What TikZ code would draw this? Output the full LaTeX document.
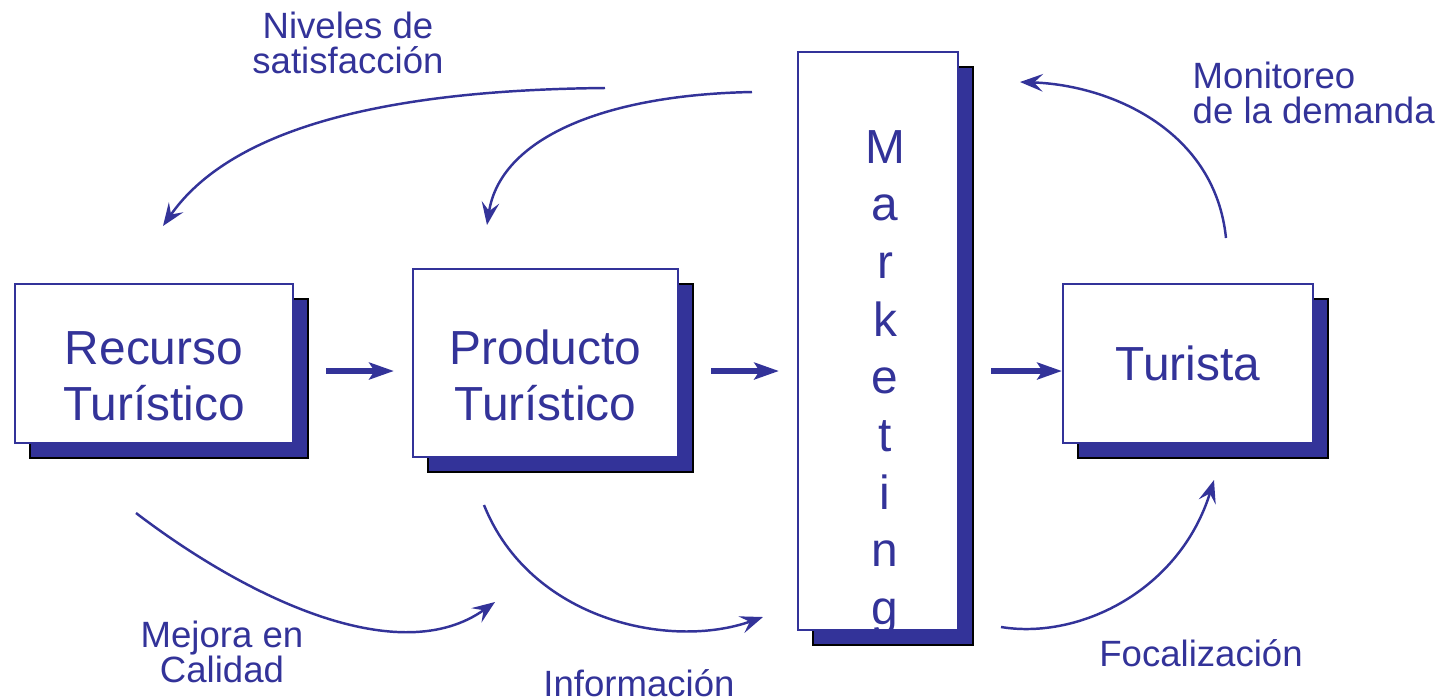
\documentclass[tikz,border=0pt]{standalone}
\usepackage{fontspec}
\setmainfont{Liberation Sans}
\usetikzlibrary{%
    arrows.meta,
    calc,
    positioning,
    shadows
}
\definecolor{tblue}{HTML}{333399}
\tikzset{
    stage/.style = {draw=tblue, line width=.6pt, fill=white, text=tblue,
        font=\fontsize{13.6}{15.9}\selectfont, align=center, inner sep=0pt,
        drop shadow={shadow xshift=.15cm, shadow yshift=-.15cm, opacity=1,
            fill=tblue, draw=black, line width=.4pt}},
    letter/.style = {text=tblue, font=\fontsize{13.6}{16}\selectfont, anchor=base, inner sep=0pt},
    note/.style = {text=tblue, font=\fontsize{10.4}{10}\selectfont, inner sep=0pt},
    flowarrow/.style = {-{Stealth[length=7pt,width=4.8pt,inset=1.5pt]}, line width=1.7pt, draw=tblue},
    bendarrow/.style = {-{Stealth[length=6.5pt,width=5pt,inset=2.5pt]}, line width=.7pt, draw=tblue}
}

\begin{document}
\begin{tikzpicture}[x=0.01cm, y=-0.01cm]
    \useasboundingbox (0,0) rectangle (1444,699);

    \node[stage, minimum width=2.78cm, minimum height=1.59cm] (rec) at (154,363.5) {\rule{0pt}{16.8pt}Recurso\\Turístico};
    \node[stage, minimum width=2.65cm, minimum height=1.88cm] (prod) at (545.5,363) {\rule{0pt}{16.8pt}Producto\\Turístico};
    \node[stage, minimum width=1.6cm, minimum height=5.78cm] (mkt) at (878,341) {};
    \node[stage, minimum width=2.5cm, minimum height=1.59cm] (tur) at (1188,363.5) {Turista};

    \foreach \l [count=\i from 0] in {M,a,r,k,e,t,i,n,g}
        \node[letter] (mk\i) at (885,{163+57.7*\i}) {\l};

    \coordinate (axis) at (0,371);
    \foreach \a/\b/\gap in {rec/prod/.18cm, prod/mkt/.18cm, mkt/tur/0cm}
        \draw[flowarrow, shorten <=.32cm, shorten >=\gap] (\a.east |- axis) -- (\b.west |- axis);

    % lazos de retorno
    \node[note, align=center] (sat) at (348,43) {Niveles de\\satisfacción};
    \node[note, align=left, anchor=west] (dem) at (1192,93) {Monitoreo\\de la demanda};
    \node[note, align=center] (cal) at (222,652) {Mejora en\\Calidad};
    \node[note] (inf) at (639,683) {Información};
    \node[note] (foc) at (1201,653) {Focalización};

    \coordinate (sat1) at (605,88);   \coordinate (sat2) at (163,226);
    \coordinate (sat3) at (752,92);   \coordinate (sat4) at (487,225);
    \coordinate (dem1) at (1226,238); \coordinate (dem2) at (1020,82);
    \coordinate (cal1) at (136,513);  \coordinate (cal2) at (495,602);
    \coordinate (inf1) at (484,505);  \coordinate (inf2) at (763,617);
    \coordinate (foc1) at (1001,627); \coordinate (foc2) at (1214,480);

    \draw[bendarrow] (sat1) .. controls (380,90) and (230,130) .. (sat2);
    \draw[bendarrow] (sat3) .. controls (600,95) and (500,140) .. (sat4);
    \draw[bendarrow] (dem1) .. controls (1215,130) and (1110,85) .. (dem2);
    \draw[bendarrow] (cal1) .. controls (250,600) and (400,670) .. (cal2);
    \draw[bendarrow] (inf1) .. controls (530,620) and (670,650) .. (inf2);
    \draw[bendarrow] (foc1) .. controls (1080,640) and (1180,590) .. (foc2);
\end{tikzpicture}
\end{document}
